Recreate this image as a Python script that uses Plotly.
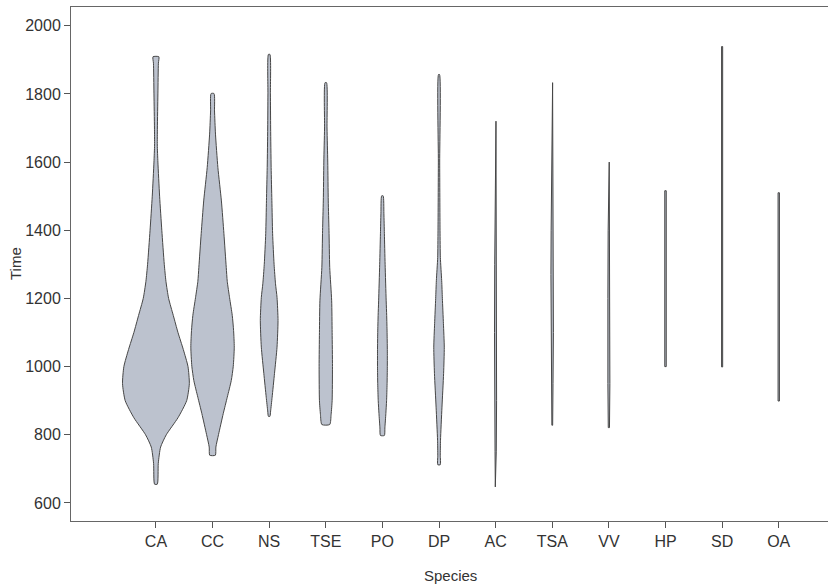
import plotly.graph_objects as go

species = ["CA", "CC", "NS", "TSE", "PO", "DP", "AC", "TSA", "VV", "HP", "SD", "OA"]

# Violin outlines: time values and relative density (CA max = 1)
ca_time = [1909, 1890, 1800, 1700, 1650, 1600, 1500, 1400, 1300, 1250, 1200, 1150, 1100, 1050, 1000, 950, 900, 850, 800, 764, 716, 655]
ca_dens = [0.088, 0.074, 0.059, 0.044, 0.041, 0.059, 0.11, 0.176, 0.25, 0.30, 0.38, 0.52, 0.66, 0.82, 0.96, 1.0, 0.92, 0.66, 0.31, 0.14, 0.07, 0.04]

cc_time = [1801, 1750, 1682, 1584, 1486, 1390, 1291, 1250, 1202, 1150, 1106, 1057, 1001, 959, 910, 862, 801, 764, 740]
cc_dens = [0.044, 0.059, 0.088, 0.16, 0.265, 0.34, 0.41, 0.44, 0.51, 0.59, 0.63, 0.65, 0.62, 0.56, 0.44, 0.32, 0.18, 0.10, 0.084]

ns_time = [1916, 1800, 1700, 1584, 1487, 1390, 1300, 1243, 1203, 1135, 1057, 980, 910, 870, 854]
ns_dens = [0.022, 0.037, 0.044, 0.059, 0.081, 0.103, 0.147, 0.19, 0.235, 0.265, 0.235, 0.16, 0.088, 0.044, 0.022]

tse_time = [1833, 1700, 1600, 1486, 1400, 1291, 1193, 1100, 1000, 900, 860, 830]
tse_dens = [0.022, 0.037, 0.059, 0.074, 0.096, 0.118, 0.176, 0.19, 0.20, 0.19, 0.16, 0.118]

po_time = [1501, 1450, 1390, 1300, 1193, 1150, 1100, 1050, 1000, 950, 900, 862, 820, 798]
po_dens = [0.022, 0.044, 0.059, 0.081, 0.113, 0.128, 0.14, 0.147, 0.147, 0.14, 0.125, 0.103, 0.074, 0.059]

dp_time = [1857, 1600, 1400, 1320, 1252, 1200, 1126, 1057, 980, 881, 784, 740, 712]
dp_dens = [0.015, 0.02, 0.03, 0.04, 0.08, 0.10, 0.132, 0.157, 0.137, 0.088, 0.044, 0.037, 0.037]

ac_time = [1720, 1500, 1300, 1100, 900, 750, 647]
ac_dens = [0.01, 0.018, 0.028, 0.034, 0.028, 0.018, 0.01]

tsa_time = [1833, 1600, 1400, 1270, 1100, 950, 828]
tsa_dens = [0.01, 0.022, 0.034, 0.04, 0.034, 0.022, 0.012]

vv_time = [1600, 1400, 1200, 1076, 950, 821]
vv_dens = [0.01, 0.022, 0.03, 0.036, 0.03, 0.018]

hp_time = [1516, 1300, 1000]
hp_dens = [0.022, 0.026, 0.022]

sd_time = [1939, 1500, 999]
sd_dens = [0.016, 0.016, 0.016]

oa_time = [1510, 1200, 899]
oa_dens = [0.02, 0.02, 0.02]

profile_times = [ca_time, cc_time, ns_time, tse_time, po_time, dp_time,
                 ac_time, tsa_time, vv_time, hp_time, sd_time, oa_time]
profile_dens = [ca_dens, cc_dens, ns_dens, tse_dens, po_dens, dp_dens,
                ac_dens, tsa_dens, vv_dens, hp_dens, sd_dens, oa_dens]

y_ticks = [600, 800, 1000, 1200, 1400, 1600, 1800, 2000]

MAX_WIDTH = 1.18  # full width (category units) at density 1
FILL = "rgb(188,194,206)"
EDGE = "rgb(70,70,70)"

fig = go.Figure()
for i, (name, t, d) in enumerate(zip(species, profile_times, profile_dens)):
    half = [v * MAX_WIDTH / 2 for v in d]
    xs = [i + h for h in half] + [i - h for h in reversed(half)] + [i + half[0]]
    ys = list(t) + list(reversed(t)) + [t[0]]
    wide = max(d) > 0.1
    fig.add_trace(go.Scatter(
        x=xs, y=ys, mode="lines", fill="toself", fillcolor=FILL,
        line=dict(color=EDGE, width=1,
                  shape="spline" if wide else "linear", smoothing=0.6),
        name=name, showlegend=False, hoverinfo="skip"))

font_family = "Liberation Sans, Arial, sans-serif"
L, T, B = 71, 7, 63
PW, PH = 828 - L, 584 - T - B
fig.update_layout(
    width=828, height=584,
    margin=dict(l=L, r=0, t=T, b=B),
    paper_bgcolor="white", plot_bgcolor="white",
    font=dict(family=font_family, size=16, color="#333333"),
    xaxis=dict(
        range=[-1.50, 11.87], tickmode="array",
        tickvals=list(range(len(species))), ticktext=species,
        ticks="outside", ticklen=6, tickcolor="#555555",
        showline=True, linecolor="#666666", linewidth=1, mirror=True,
        showgrid=False, zeroline=False, automargin=False,
    ),
    yaxis=dict(
        range=[547, 2055], tickmode="array", tickvals=y_ticks,
        ticks="outside", ticklen=6, tickcolor="#555555",
        showline=True, linecolor="#666666", linewidth=1,
        showgrid=False, zeroline=False, automargin=False,
    ),
    annotations=[
        dict(text="Time", xref="paper", yref="paper",
             x=(15 - L) / PW, y=(584 - B - 263) / PH, textangle=-90,
             showarrow=False, font=dict(size=15), xanchor="center", yanchor="middle"),
        dict(text="Species", xref="paper", yref="paper",
             x=(450 - L) / PW, y=(584 - B - 575) / PH,
             showarrow=False, font=dict(size=15), xanchor="center", yanchor="middle"),
    ],
)

fig.write_html("out.html", config={"displayModeBar": False},
               post_script="document.body.style.margin='0';")
